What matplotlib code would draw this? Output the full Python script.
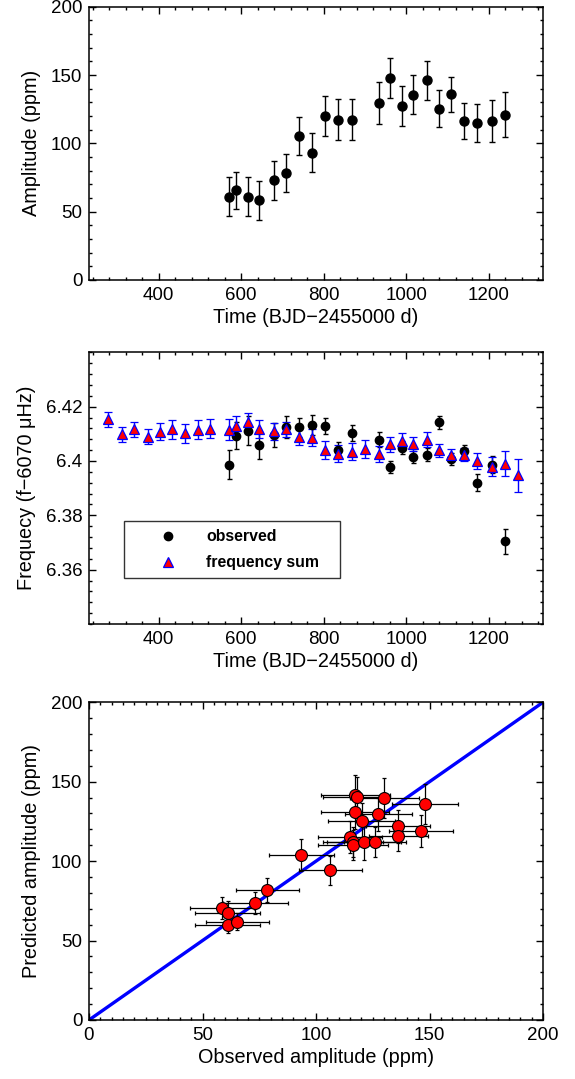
import matplotlib
matplotlib.use("Agg")
import matplotlib.pyplot as plt
from matplotlib.ticker import MultipleLocator, FixedLocator, FuncFormatter
from matplotlib.lines import Line2D

plt.rcParams['font.family'] = ['Liberation Sans', 'DejaVu Sans']

# amplitude vs time (observed)
t_obs = [570, 588, 617, 644, 680, 709, 741, 772, 804, 836, 868,
         934, 962, 989, 1017, 1050, 1080, 1110, 1141, 1172, 1209, 1241]
amp = [60.9, 65.5, 60.9, 58.2, 72.9, 78.5, 105.6, 93.2, 120.0, 117.4, 117.4,
       129.6, 147.7, 127.4, 135.7, 146.0, 125.4, 135.9, 116.1, 114.7, 116.1, 121.0]
amp_err = [14.3, 13.7, 14.3, 14.2, 14.3, 14.0, 14.0, 14.5, 14.8, 15.0, 15.3,
           15.2, 14.5, 14.8, 14.0, 14.2, 13.6, 13.0, 13.2, 14.0, 15.3, 16.3]

# frequency vs time
f_obs = [6.3987, 6.4093, 6.4112, 6.4059, 6.4096, 6.4124, 6.4124, 6.4133, 6.4128, 6.4040, 6.4104,
         6.4078, 6.3978, 6.4048, 6.4013, 6.4023, 6.4142, 6.4006, 6.4035, 6.3920, 6.3987, 6.3704]
f_obs_err = [0.0055, 0.0049, 0.0053, 0.0051, 0.0043, 0.0040, 0.0034, 0.0036, 0.0030, 0.0029, 0.0030,
             0.0027, 0.0022, 0.0024, 0.0022, 0.0024, 0.0024, 0.0022, 0.0023, 0.0031, 0.0033, 0.0045]

t_sum = [277, 310, 340, 374, 402, 433, 465, 496, 525, 570, 588, 617, 644, 680, 709, 741, 772,
         804, 836, 868, 900, 934, 962, 989, 1017, 1050, 1080, 1110, 1141, 1172, 1209, 1241, 1271]
f_sum = [6.4153, 6.4098, 6.4116, 6.4090, 6.4108, 6.4116, 6.4102, 6.4115, 6.4118, 6.4115, 6.4130,
         6.4142, 6.4118, 6.4109, 6.4116, 6.4090, 6.4085, 6.4039, 6.4027, 6.4034, 6.4044, 6.4025,
         6.4061, 6.4074, 6.4061, 6.4079, 6.4039, 6.4022, 6.4023, 6.4001, 6.3979, 6.3990, 6.3947]
f_sum_err = [0.0027, 0.0027, 0.0027, 0.0029, 0.0032, 0.0034, 0.0035, 0.0035, 0.0035, 0.0038, 0.0034,
             0.0033, 0.0032, 0.0030, 0.0028, 0.0030, 0.0031, 0.0033, 0.0032, 0.0031, 0.0032, 0.0030,
             0.0028, 0.0029, 0.0026, 0.0027, 0.0024, 0.0023, 0.0023, 0.0029, 0.0035, 0.0045, 0.0060]

# predicted vs observed amplitude
obs_amp = [58.5, 61.2, 61.2, 65.4, 73.2, 78.6, 93.6, 106.3, 115.1, 116.1, 116.4, 121.1,
           125.9, 117.1, 117.3, 117.9, 120.2, 127.4, 130.0, 136.0, 136.3, 146.3, 147.9]
obs_amp_err = [14.2, 14.3, 14.3, 13.7, 14.3, 14.0, 14.5, 14.0, 14.0, 13.2, 15.3, 16.3,
               13.6, 15.0, 15.3, 14.8, 14.8, 14.8, 15.2, 14.0, 13.0, 14.2, 14.5]
pred_amp = [70.3, 67.6, 60.1, 62.0, 73.5, 81.7, 103.8, 94.2, 115.3, 112.3, 110.4, 112.0,
            111.9, 131.0, 141.8, 140.4, 125.5, 129.4, 139.7, 121.9, 115.6, 118.8, 135.8]
pred_amp_err = [7.0, 7.0, 5.2, 5.3, 7.0, 7.5, 10.0, 9.0, 10.0, 9.5, 9.5, 11.0,
                9.5, 11.0, 12.5, 12.5, 11.0, 10.5, 12.5, 10.5, 9.5, 10.0, 12.5]

TICK = 13.5
LAB = 14.3


def style(ax):
    ax.tick_params(which='both', direction='in', top=True, right=True,
                   labelsize=TICK, width=1.0, pad=4.7)
    ax.tick_params(which='major', length=5)
    ax.tick_params(which='minor', length=2.5)
    for s in ax.spines.values():
        s.set_linewidth(1.1)


fig = plt.figure(figsize=(5.75, 10.79), dpi=100)
left, width = 89 / 575, 454 / 575
ax1 = fig.add_axes([left, 1 - 280 / 1079, width, 273.3 / 1079])
ax2 = fig.add_axes([left, 1 - 624 / 1079, width, 271.7 / 1079])
ax3 = fig.add_axes([left, 1 - 1020 / 1079, width, 317.7 / 1079])

# top panel
ax1.errorbar(t_obs, amp, yerr=amp_err, fmt='o', color='black', ms=6.5,
             elinewidth=1.0, capsize=2.2, capthick=1.0)
ax1.set_xlim(231, 1332)
ax1.set_ylim(0, 200)
ax1.xaxis.set_major_locator(MultipleLocator(200))
ax1.xaxis.set_minor_locator(MultipleLocator(40))
ax1.yaxis.set_major_locator(MultipleLocator(50))
ax1.yaxis.set_minor_locator(MultipleLocator(10))
ax1.set_xlabel('Time (BJD\u22122455000 d)', fontsize=LAB, labelpad=3)
ax1.set_ylabel('Amplitude (ppm)', fontsize=LAB, labelpad=7)
style(ax1)

# middle panel
ax2.errorbar(t_obs, f_obs, yerr=f_obs_err, fmt='o', color='black', ms=6.0,
             elinewidth=1.0, capsize=1.8, capthick=1.0)
ax2.errorbar(t_sum, f_sum, yerr=f_sum_err, fmt='^', mfc='red', mec='blue', mew=0.9,
             ms=6.8, ecolor='blue', elinewidth=1.0, capsize=2.6, capthick=1.0)
ax2.set_xlim(231, 1332)
ax2.set_ylim(6.34, 6.44)
ax2.xaxis.set_major_locator(MultipleLocator(200))
ax2.xaxis.set_minor_locator(MultipleLocator(40))
ax2.yaxis.set_major_locator(FixedLocator([6.36, 6.38, 6.40, 6.42]))
ax2.yaxis.set_minor_locator(MultipleLocator(0.004))
ax2.yaxis.set_major_formatter(FuncFormatter(lambda v, p: f'{v:g}'))
ax2.set_xlabel('Time (BJD\u22122455000 d)', fontsize=LAB, labelpad=3)
ax2.set_ylabel('Frequecy (f\u22126070 \u03bcHz)', fontsize=LAB, labelpad=7)
style(ax2)

handles = [
    Line2D([], [], ls='none', marker='o', color='black', ms=6.0),
    Line2D([], [], ls='none', marker='^', mfc='red', mec='blue', mew=0.9, ms=6.8),
]
leg = ax2.legend(handles, ['observed', 'frequency sum'], loc='lower left',
                 bbox_to_anchor=(0.077, 0.169, 0.476, 0.2075), mode='expand',
                 prop={'weight': 'bold', 'size': 11.4}, frameon=True, fancybox=False,
                 borderpad=0.5, labelspacing=0.7, handlelength=4.6, handletextpad=0.1,
                 borderaxespad=0)
leg.get_frame().set_edgecolor('black')
leg.get_frame().set_linewidth(1.0)

# bottom panel
ax3.plot([0, 200], [0, 200], color='blue', lw=2.4, zorder=1)
ax3.errorbar(obs_amp, pred_amp, xerr=obs_amp_err, yerr=pred_amp_err, fmt='none',
             ecolor='black', elinewidth=0.9, capsize=1.5, capthick=0.9, zorder=2)
ax3.plot(obs_amp, pred_amp, 'o', mfc='red', mec='black', mew=0.8, ms=8.6, zorder=3)
ax3.set_xlim(0, 200)
ax3.set_ylim(0, 200)
ax3.xaxis.set_major_locator(MultipleLocator(50))
ax3.xaxis.set_minor_locator(MultipleLocator(5))
ax3.yaxis.set_major_locator(MultipleLocator(50))
ax3.yaxis.set_minor_locator(MultipleLocator(10))
ax3.set_xlabel('Observed amplitude (ppm)', fontsize=LAB, labelpad=3)
ax3.set_ylabel('Predicted amplitude (ppm)', fontsize=LAB, labelpad=7)
style(ax3)

fig.savefig('out.png', dpi=100)
